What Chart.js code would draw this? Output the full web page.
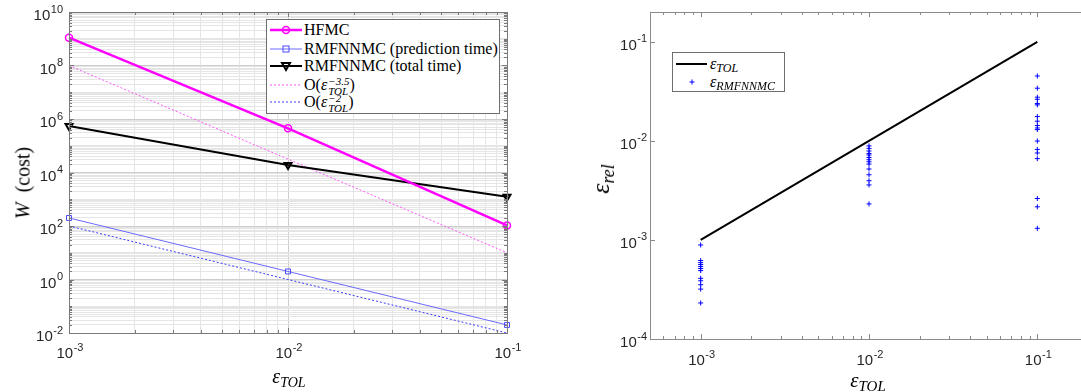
<!DOCTYPE html>
<html><head><meta charset="utf-8">
<script src="https://cdn.jsdelivr.net/npm/chart.js@4.4.1/dist/chart.umd.min.js"></script>
<style>
html,body{margin:0;padding:0;width:1081px;height:392px;overflow:hidden;background:#fff;}
#c1{position:absolute;left:0;top:0;}
#c2{position:absolute;left:540px;top:0;}
.ov{position:absolute;font-family:'Liberation Serif','DejaVu Serif',serif;color:#000;white-space:nowrap;}
.lg{position:absolute;background:#fff;border:1px solid #6e6e6e;box-sizing:border-box;}
.row{position:absolute;height:18px;line-height:18px;font-size:16px;}
.row svg{position:absolute;left:0;top:0;}
.row .t{position:absolute;top:0;}
.ss{display:inline-flex;flex-direction:column;vertical-align:middle;font-size:11px;line-height:10px;font-style:italic;margin-left:1px;}
i{font-style:italic;}
</style></head><body>
<canvas id="c1" width="540" height="392"></canvas>
<canvas id="c2" width="560" height="392"></canvas>

<!-- left legend -->
<div class="lg" style="left:266px;top:19px;width:234px;height:95px;">
  <div class="row" style="left:2px;top:1px;width:230px;">
    <svg width="34" height="18"><line x1="1" y1="9" x2="33" y2="9" stroke="#ff00ff" stroke-width="2.5"/><circle cx="17" cy="9" r="3.5" fill="none" stroke="#ff00ff" stroke-width="1.5"/></svg>
    <span class="t" style="left:35px;">HFMC</span></div>
  <div class="row" style="left:2px;top:20px;width:230px;">
    <svg width="34" height="18"><line x1="1" y1="9" x2="33" y2="9" stroke="#6a6aff" stroke-width="1"/><rect x="14" y="6" width="6" height="6" fill="none" stroke="#4a4aff" stroke-width="1"/></svg>
    <span class="t" style="left:35px;">RMFNNMC (prediction time)</span></div>
  <div class="row" style="left:2px;top:37px;width:230px;">
    <svg width="34" height="18"><line x1="1" y1="9" x2="33" y2="9" stroke="#000" stroke-width="2"/><polygon points="13,6 21,6 17,13" fill="none" stroke="#000" stroke-width="2"/></svg>
    <span class="t" style="left:35px;">RMFNNMC (total time)</span></div>
  <div class="row" style="left:2px;top:56px;width:230px;">
    <svg width="34" height="18"><line x1="1" y1="9" x2="33" y2="9" stroke="#ff55ff" stroke-width="1" stroke-dasharray="2,2"/></svg>
    <span class="t" style="left:35px;">O(<i>ε</i><span class="ss"><span>−3.5</span><span>TOL</span></span>)</span></div>
  <div class="row" style="left:2px;top:73px;width:230px;">
    <svg width="34" height="18"><line x1="1" y1="9" x2="33" y2="9" stroke="#3a3aff" stroke-width="1" stroke-dasharray="2,2"/></svg>
    <span class="t" style="left:35px;">O(<i>ε</i><span class="ss"><span>−2</span><span>TOL</span></span>)</span></div>
</div>

<!-- right legend -->
<div class="lg" style="left:672px;top:52px;width:113px;height:40px;">
  <div class="row" style="left:2px;top:2px;width:108px;">
    <svg width="34" height="18"><line x1="1" y1="9" x2="32" y2="9" stroke="#000" stroke-width="2"/></svg>
    <span class="t" style="left:35px;"><i>ε</i><i style="font-size:12px;position:relative;top:3px;">TOL</i></span></div>
  <div class="row" style="left:2px;top:20px;width:108px;">
    <svg width="34" height="18"><line x1="14.5" y1="9" x2="19.5" y2="9" stroke="#0000ff" stroke-width="1"/><line x1="17" y1="6.5" x2="17" y2="11.5" stroke="#0000ff" stroke-width="1"/></svg>
    <span class="t" style="left:35px;"><i>ε</i><i style="font-size:12px;position:relative;top:3px;">RMFNNMC</i></span></div>
</div>

<!-- axis titles -->
<div class="ov" style="left:289px;top:376px;transform:translate(-50%,-50%);font-size:20px;"><i>ε</i><i style="font-size:14px;position:relative;top:4px;">TOL</i></div>
<div class="ov" style="left:23px;top:183px;transform:translate(-50%,-50%) rotate(-90deg);font-size:20px;"><i>W</i>&nbsp;&nbsp;(cost)</div>
<div class="ov" style="left:868px;top:380px;transform:translate(-50%,-50%);font-size:21px;"><i>ε</i><i style="font-size:15px;position:relative;top:4px;">TOL</i></div>
<div class="ov" style="left:601px;top:179px;transform:translate(-50%,-50%) rotate(-90deg);font-size:26px;"><i>ε</i><i style="font-size:18px;position:relative;top:5px;">rel</i></div>

<script>
// ---------- data ----------
const epsTol = [1e-3, 1e-2, 1e-1];
const hfmcCost = [1.1e9, 4.5e5, 1.05e2];
const rmfnnmcPredCost = [2.0e2, 2.0e0, 2.0e-2];
const rmfnnmcTotalCost = [5.5e5, 1.9e4, 1.25e3];
const refSlope35 = [1e8, 3.16e4, 1e1];
const refSlope2 = [1e2, 1e0, 1e-2];

const tolLineX = [1e-3, 1e-1];
const tolLineY = [1e-3, 1e-1];
const relErrAt1e3 = [8.9e-4, 6.2e-4, 5.9e-4, 5.65e-4, 5.4e-4, 5.15e-4, 4.9e-4, 4.1e-4, 3.87e-4, 3.53e-4, 3.19e-4, 2.31e-4];
const relErrAt1e2 = [8.9e-3, 8.4e-3, 7.9e-3, 7.45e-3, 7.2e-3, 6.8e-3, 6.45e-3, 6.15e-3, 5.83e-3, 5.2e-3, 4.55e-3, 3.96e-3, 3.59e-3, 2.31e-3];
const relErrAt1e1 = [4.52e-2, 3.4e-2, 2.76e-2, 2.63e-2, 2.38e-2, 2.31e-2, 1.76e-2, 1.58e-2, 1.43e-2, 1.35e-2, 1.30e-2, 9.96e-3, 8.2e-3, 7.55e-3, 6.62e-3, 2.62e-3, 2.16e-3, 1.31e-3];

// tick labels: powers of ten shown as 10^exp
const leftXTickExps = [-3, -2, -1];
const leftYTickExps = [-2, 0, 2, 4, 6, 8, 10];
const rightXTickExps = [-3, -2, -1];
const rightYTickExps = [-4, -3, -2, -1];

// ---------- helpers ----------
function decadeOf(v){ const l = Math.log10(v); const r = Math.round(l); return Math.abs(l - r) < 1e-6 ? r : null; }
function logTicks(min, max){
  const out = [];
  const e0 = Math.floor(Math.log10(min) + 1e-9), e1 = Math.ceil(Math.log10(max) - 1e-9);
  for (let e = e0; e <= e1; e++) for (let k = 1; k <= 9; k++) {
    const v = parseFloat(k + 'e' + e);
    if (v >= min * (1 - 1e-9) && v <= max * (1 + 1e-9)) out.push({value: v});
  }
  return out;
}
const FONT = "'Liberation Sans','DejaVu Sans',sans-serif";
function logAxis(o){
  return {
    type: 'logarithmic', position: o.pos, min: o.min, max: o.max,
    afterBuildTicks: s => { s.ticks = logTicks(o.min, o.max); },
    afterFit: s => { if (o.pos === 'left') s.width = o.size; else s.height = o.size; },
    border: {display: false},
    grid: o.grid ? {display: true, drawTicks: false, lineWidth: 1,
      color: c => (c.tick && o.exps.includes(decadeOf(c.tick.value))) ? '#cdcdcd' : '#e5e5e5'} : {display: false, drawTicks: false},
    ticks: {display: false, autoSkip: false,
      callback: v => { const d = decadeOf(v); return (d !== null && o.exps.includes(d)) ? '10^' + d : ''; }}
  };
}
// draws the box, inward tick marks and "10^n" labels with a raised exponent
const framePlugin = {
  id: 'frame',
  afterDraw(chart, args, o){
    const {ctx, chartArea: a} = chart;
    const xs = chart.scales.x, ys = chart.scales.y;
    ctx.save();
    ctx.strokeStyle = o.color; ctx.lineWidth = 1;
    ctx.beginPath();
    xs.ticks.forEach(t => {
      const d = decadeOf(t.value); const major = d !== null && o.xExps.includes(d);
      if (!major && !o.xMinor) return;
      const L = major ? o.major : o.minor;
      const px = Math.round(xs.getPixelForValue(t.value)) + 0.5;
      ctx.moveTo(px, a.bottom); ctx.lineTo(px, a.bottom - L);
      ctx.moveTo(px, a.top); ctx.lineTo(px, a.top + L);
    });
    ys.ticks.forEach(t => {
      const d = decadeOf(t.value); const major = d !== null && o.yExps.includes(d);
      if (!major && !o.yMinor) return;
      const L = major ? o.major : o.minor;
      const py = Math.round(ys.getPixelForValue(t.value)) + 0.5;
      ctx.moveTo(a.left, py); ctx.lineTo(a.left + L, py);
      ctx.moveTo(a.right, py); ctx.lineTo(a.right - L, py);
    });
    ctx.stroke();
    ctx.strokeRect(Math.round(a.left) + 0.5, Math.round(a.top) + 0.5, Math.round(a.right - a.left), Math.round(a.bottom - a.top));

    // labels
    ctx.fillStyle = '#262626';
    ctx.textBaseline = 'alphabetic';
    ctx.textAlign = 'left';
    const drawPow = (exp, xLeft, base) => {
      ctx.font = '15px ' + FONT; ctx.fillText('10', xLeft, base);
      const w1 = ctx.measureText('10').width;
      ctx.font = '11px ' + FONT; ctx.fillText(String(exp), xLeft + w1 + 0.5, base - 7.5);
    };
    const widthPow = exp => {
      ctx.font = '15px ' + FONT; const w1 = ctx.measureText('10').width;
      ctx.font = '11px ' + FONT; const w2 = ctx.measureText(String(exp)).width;
      return w1 + 0.5 + w2;
    };
    o.xExps.forEach(e => {
      const px = xs.getPixelForValue(Math.pow(10, e));
      const w = widthPow(e);
      drawPow(e, px - w / 2 + 1, o.xBase);
    });
    o.yExps.forEach(e => {
      const py = ys.getPixelForValue(Math.pow(10, e));
      const w = widthPow(e);
      drawPow(e, o.yRight - w, py + 8);
    });
    ctx.restore();
  }
};
const xy = (xs, ys) => xs.map((x, i) => ({x, y: ys[i]}));

// ---------- left chart ----------
new Chart(document.getElementById('c1'), {
  type: 'line',
  data: { datasets: [
    {label: 'HFMC', data: xy(epsTol, hfmcCost), borderColor: '#ff00ff', borderWidth: 2.5,
     pointStyle: 'circle', pointRadius: 3.5, pointBorderWidth: 1.5, pointBackgroundColor: 'rgba(0,0,0,0)', pointBorderColor: '#ff00ff', clip: false},
    {label: 'RMFNNMC (prediction time)', data: xy(epsTol, rmfnnmcPredCost), borderColor: '#6a6aff', borderWidth: 1,
     pointStyle: 'rect', pointRadius: 3.5, pointBorderWidth: 1, pointBackgroundColor: 'rgba(0,0,0,0)', pointBorderColor: '#4a4aff', clip: false},
    {label: 'RMFNNMC (total time)', data: xy(epsTol, rmfnnmcTotalCost), borderColor: '#000', borderWidth: 2,
     pointStyle: 'triangle', pointRotation: 180, pointRadius: 4, pointBorderWidth: 2, pointBackgroundColor: 'rgba(0,0,0,0)', pointBorderColor: '#000', clip: false},
    {label: 'O(eps^-3.5)', data: xy(epsTol, refSlope35), borderColor: '#ff55ff', borderWidth: 1, borderDash: [2, 2], pointRadius: 0, clip: false},
    {label: 'O(eps^-2)', data: xy(epsTol, refSlope2), borderColor: '#3a3aff', borderWidth: 1, borderDash: [2, 2], pointRadius: 0, clip: false}
  ]},
  options: {
    responsive: false, animation: false, devicePixelRatio: 1,
    layout: {padding: {top: 12, right: 33, left: 0, bottom: 0}},
    elements: {line: {tension: 0}},
    plugins: {legend: {display: false}, tooltip: {enabled: false},
      frame: {color: '#7a7a7a', xExps: leftXTickExps, yExps: leftYTickExps, xMinor: true, yMinor: true, major: 5, minor: 3,
              xBase: 358, yRight: 63}},
    scales: {
      x: logAxis({pos: 'bottom', min: 1e-3, max: 1e-1, size: 59, grid: true, exps: leftXTickExps}),
      y: logAxis({pos: 'left', min: 1e-2, max: 1e10, size: 69, grid: true, exps: leftYTickExps})
    }
  },
  plugins: [framePlugin]
});

// ---------- right chart ----------
const scatterPts = [].concat(
  relErrAt1e3.map(y => ({x: epsTol[0], y})),
  relErrAt1e2.map(y => ({x: epsTol[1], y})),
  relErrAt1e1.map(y => ({x: epsTol[2], y}))
);
new Chart(document.getElementById('c2'), {
  type: 'line',
  data: { datasets: [
    {label: 'eps_TOL', data: xy(tolLineX, tolLineY), borderColor: '#000', borderWidth: 2, pointRadius: 0, clip: false},
    {label: 'eps_RMFNNMC', data: scatterPts, showLine: false, pointStyle: 'cross', pointRadius: 2.5,
     pointBorderWidth: 1, pointBorderColor: '#0000ff', pointBackgroundColor: '#0000ff', borderColor: '#0000ff', clip: false}
  ]},
  options: {
    responsive: false, animation: false, devicePixelRatio: 1,
    layout: {padding: {top: 12, right: 12, left: 0, bottom: 0}},
    plugins: {legend: {display: false}, tooltip: {enabled: false},
      frame: {color: '#8a8a8a', xExps: rightXTickExps, yExps: rightYTickExps, xMinor: true, yMinor: false, major: 5, minor: 3,
              xBase: 365, yRight: 107}},
    scales: {
      x: logAxis({pos: 'bottom', min: 5e-4, max: 2e-1, size: 53, grid: false, exps: rightXTickExps}),
      y: logAxis({pos: 'left', min: 1e-4, max: 2e-1, size: 110, grid: false, exps: rightYTickExps})
    }
  },
  plugins: [framePlugin]
});
</script>
</body></html>
